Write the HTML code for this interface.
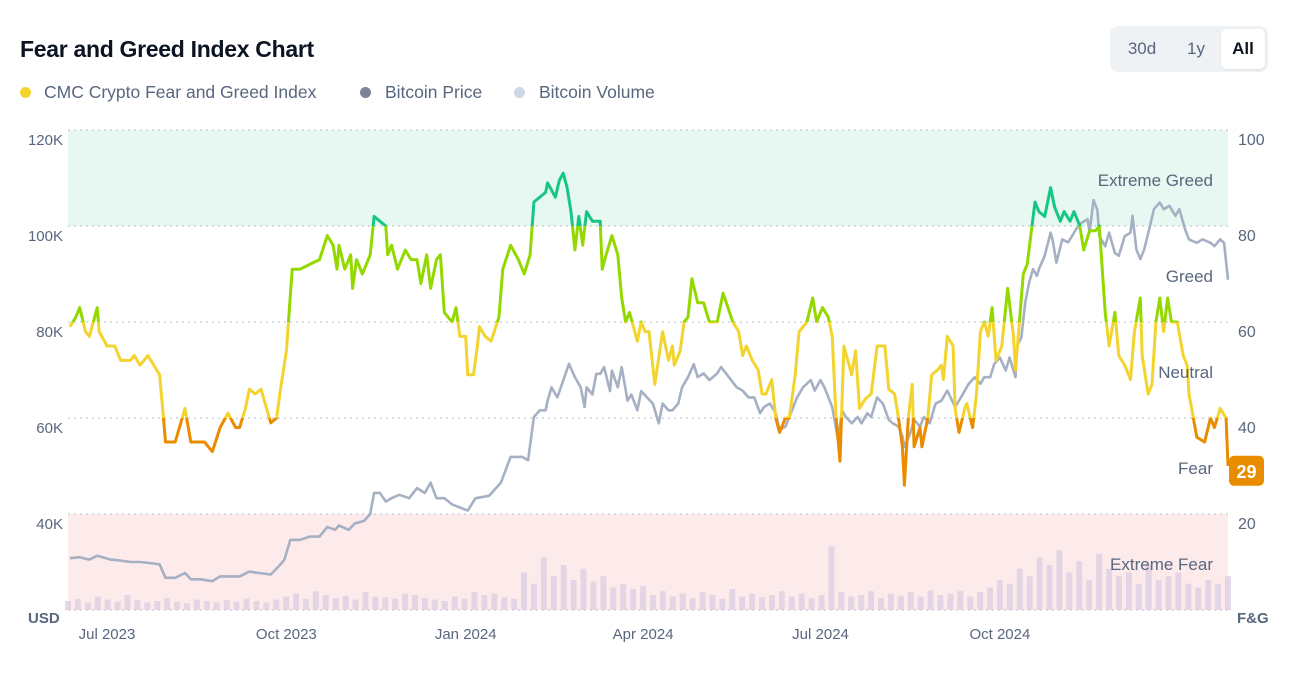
<!DOCTYPE html>
<html><head><meta charset="utf-8"><style>
body{margin:0;background:#fff;font-family:"Liberation Sans",sans-serif;}
#wrap{position:relative;width:1295px;height:677px;overflow:hidden;}
.title{position:absolute;left:20px;top:36px;font-size:23px;font-weight:bold;color:#0d1421;letter-spacing:-0.3px;}
.legend{position:absolute;top:82px;font-size:17.5px;color:#58667e;}
.dot{position:absolute;top:87px;width:11px;height:11px;border-radius:50%;}
.btns{position:absolute;left:1110px;top:26px;width:158px;height:46px;background:#eff2f5;border-radius:8px;}
.btn{position:absolute;top:3px;height:40px;line-height:40px;font-size:17px;color:#58667e;text-align:center;border-radius:6px;}
</style></head><body><div id="wrap">
<div class="title">Fear and Greed Index Chart</div>
<div class="dot" style="left:20px;background:#f3d42f"></div>
<div class="legend" style="left:44px">CMC Crypto Fear and Greed Index</div>
<div class="dot" style="left:360px;background:#7d8398"></div>
<div class="legend" style="left:385px">Bitcoin Price</div>
<div class="dot" style="left:514px;background:#cfd6e4"></div>
<div class="legend" style="left:539px">Bitcoin Volume</div>
<div class="btns">
<div class="btn" style="left:8px;width:48px">30d</div>
<div class="btn" style="left:64px;width:44px">1y</div>
<div class="btn" style="left:111px;width:44px;background:#fff;color:#0d1421;font-weight:bold;box-shadow:0 1px 2px rgba(0,0,0,0.08)">All</div>
</div>
<svg id="chart" width="1295" height="677" style="position:absolute;left:0;top:0"></svg>
</div>
<script>
const fgDays=[1,4,6,9,11,15,16,20,24,27,32,34,37,41,44,47,49,50,55,60,63,70,74,78,82,86,88,91,93,96,99,104,107,109,112,115,119,124,129,133,136,138,139,142,145,146,148,151,155,157,160,163,164,166,169,173,176,179,181,184,186,189,191,193,197,199,201,204,205,208,210,211,214,217,221,223,227,231,234,237,239,245,246,250,252,254,256,258,260,262,264,266,269,273,274,276,279,282,284,286,288,292,294,296,298,301,305,308,310,311,314,316,318,320,323,326,329,333,336,341,344,346,348,351,354,356,358,361,363,365,368,370,373,375,379,382,384,387,390,392,394,396,398,402,404,406,409,412,415,419,421,424,426,428,429,431,433,434,437,438,441,443,446,448,449,451,454,455,457,460,461,464,466,468,470,472,474,476,479,482,485,486,488,490,492,496,498,501,504,506,509,511,514,516,519,521,524,527,529,532,534,537,539,542,545,547,550,551,554,556,558,560,562,564,566,569,572,574,575,579,583,586,588,591,594,595];
const fgValues=[59,61,63,58,57,63,58,55,55,52,52,53,51,53,51,49,40,35,35,42,35,35,33,38,41,38,38,42,46,45,46,39,40,46,54,71,71,72,73,78,76,71,76,71,74,67,73,70,74,82,81,80,74,76,71,75,73,73,68,74,67,73,74,62,60,63,57,57,49,49,55,59,57,56,61,71,76,73,70,74,85,87,89,86,89.5,91,88,83,75,82,76,83,81,81,71,74,78,74,65,60,62,56,60,58,58,47,58,52,55,51,54,60,61,69,64,64,60,60,66,60,58,53,55,52,50,45,45,48,40,37,40,40,49,58,60,65,60,63,61,57,40,31,55,49,54,42,44,45,55,55,46,45,40,34,26,40,47,34,38,34,40,49,50,51,48,57,55,42,37,42,43,38,45,58,60,57,63,52,55,67,57,50,60,70,72,85,83,82,88,84,81,83,81,83,80,75,79,79,80,62,55,62,53,51,48,58,65,53,45,47,60,65,58,65,60,60,53,51,45,36,35,40,38,42,40,30,29];
const priceDays=[1,6,11,15,22,27,32,37,42,47,50,55,60,63,68,74,78,83,88,93,98,104,109,111,114,119,124,129,133,137,139,144,147,152,155,157,160,163,166,170,175,179,183,186,189,193,197,205,209,216,222,227,233,236,239,242,245,246,248,251,254,257,260,263,265,266,269,271,273,275,278,279,282,284,287,289,292,294,297,300,303,305,308,310,313,315,318,321,323,326,329,333,335,339,343,346,349,352,355,357,360,363,365,368,370,374,377,381,383,386,388,392,395,397,399,402,405,407,410,412,415,418,421,423,426,428,429,432,434,437,439,442,445,448,451,455,458,462,465,468,470,473,475,478,481,483,486,487,489,491,493,495,497,498,501,504,505,507,510,513,515,517,520,523,524,526,528,529,532,534,537,539,542,545,546,548,550,552,555,557,560,562,565,568,570,573,575,579,582,586,588,591,593,595];
const priceValues=[30.8,31,30.5,31.3,30.5,30.3,30,30,29.8,29.5,26.7,26.7,27.7,26.4,26.4,26,27,27,27,28,27.7,27.4,29.5,30.5,34.6,34.6,35.3,35.3,37.3,36.7,37.6,36.7,38,38.6,40,44.4,44.4,42.6,43.3,44,43.3,45.4,44.4,46.5,43.3,43.3,42,40.7,43.3,43.8,46.5,51.9,51.9,51.2,60.2,61.6,61.6,63.6,66.4,64.3,67.8,71.3,68.5,66.4,62.3,66.4,64.9,69.2,69.2,70.6,65.6,69.9,66.4,70.6,63.6,64.9,61.6,65.6,64.3,63,58.9,63,61.6,61.6,63,66.4,68.5,71.2,68.5,69.3,67.9,69.3,70.6,68.5,66.4,65.7,64.3,64.3,61,62.3,63,61,57.5,58.2,60.2,64.3,66.4,67.9,65.7,67.9,66.4,62.3,55.4,61.6,60.2,58.9,60.2,58.9,61,60.2,64.3,63,59.6,58.9,58.2,56.2,54,56.8,59.6,58.2,60.2,58.9,63,63.6,65.7,62.3,64.3,67.1,68.5,67.1,68.5,68.5,71.2,72.6,69.9,72.6,68.5,75.3,76.7,84,88.2,91,89.6,91,93.8,98.6,97.2,92.4,97.2,96.6,97.9,99.3,100.7,101.4,98.6,105.4,103.3,97.9,95.8,98.6,94.4,93.8,97.9,98.6,102.1,95.1,93.1,95.1,100,103.5,104.9,103.5,104.2,102.1,103.5,99.3,97.2,96.5,97.2,96.5,95.8,97.2,96.5,88.8];
const volumeValues=[12,15,10,18,14,11,20,13,10,12,16,11,9,14,12,10,13,11,15,12,10,14,18,22,15,25,20,16,19,14,24,18,17,15,22,20,16,14,12,18,15,24,20,22,17,15,50,35,70,45,60,40,55,38,45,30,35,28,32,20,25,18,22,16,24,20,15,28,18,22,17,20,25,18,22,16,20,85,24,18,20,25,16,22,19,24,18,26,20,22,25,18,24,30,40,35,55,45,70,60,80,50,65,40,75,55,45,50,35,60,40,45,50,35,30,40,35,45];
const leftTicks=["120K","100K","80K","60K","40K"];
const leftTickValues=[120,100,80,60,40];
const rightTicks=[100,80,60,40,20];
const xTickLabels=["Jul 2023","Oct 2023","Jan 2024","Apr 2024","Jul 2024","Oct 2024"];
const xTickDays=[20,112,204,295,386,478];
const zones=[{n:"Extreme Greed",lo:80,hi:100,c:"#16c784"},{n:"Greed",lo:60,hi:80,c:"#93d900"},{n:"Neutral",lo:40,hi:60,c:"#f3d42f"},{n:"Fear",lo:20,hi:40,c:"#ea8c00"},{n:"Extreme Fear",lo:0,hi:20,c:"#ea3943"}];
const currentValue=29;

const NS="http://www.w3.org/2000/svg";
const svg=document.getElementById('chart');
const X0=68,X1=1228,Y0=130,Y1=610,DMAX=595;
const xs=d=>X0+(X1-X0)*d/DMAX;
const yFG=v=>Y1-(Y1-Y0)*v/100;
const yP=k=>Y1-(Y1-Y0)*(k-20)/100;
const yV=b=>Y1-b*0.75;
function el(t,a){const e=document.createElementNS(NS,t);for(const k in a)e.setAttribute(k,a[k]);svg.appendChild(e);return e;}
let b=el('rect',{x:X0,y:yFG(100),width:X1-X0,height:yFG(80)-yFG(100),fill:'#e6f8f1'});


b=el('rect',{x:X0,y:yFG(20),width:X1-X0,height:yFG(0)-yFG(20),fill:'#fdeaeb'});


[100,80,60,40,20,0].forEach(v=>{const g=el('line',{x1:X0,x2:X1,y1:yFG(v),y2:yFG(v),stroke:'#c4c9d2','stroke-width':1.3,'stroke-dasharray':'2 4'});

});
const vw=(X1-X0)/volumeValues.length;
volumeValues.forEach((v,i)=>{const d=i*DMAX/(volumeValues.length-1);const r=el('rect',{x:xs(d)-vw*0.3,y:yV(v),width:vw*0.6,height:Y1-yV(v),fill:'#dccfe2',opacity:0.8});

});
let pd=priceDays.map((d,i)=>(i?'L':'M')+xs(d).toFixed(1)+' '+yP(priceValues[i]).toFixed(1)).join(' ');
const pl=el('path',{d:pd,fill:'none',stroke:'#a6b0c3','stroke-width':2.6,'stroke-linejoin':'round'});


const defs=el('defs',{});
let fd=fgDays.map((d,i)=>(i?'L':'M')+xs(d).toFixed(1)+' '+yFG(fgValues[i]).toFixed(1)).join(' ');
zones.forEach((z,i)=>{const cp=document.createElementNS(NS,'clipPath');cp.setAttribute('id','z'+i);
const r=document.createElementNS(NS,'rect');r.setAttribute('x',0);r.setAttribute('width',1295);r.setAttribute('y',yFG(z.hi)-(i==0?50:0));r.setAttribute('height',yFG(z.lo)-yFG(z.hi)+(i==0?50:0)+(i==4?50:0));cp.appendChild(r);defs.appendChild(cp);
const p=el('path',{d:fd,fill:'none',stroke:z.c,'stroke-width':3,'stroke-linejoin':'round','clip-path':'url(#z'+i+')'});


const t=el('text',{x:1213,y:(yFG(z.lo)+yFG(z.hi))/2+8,'text-anchor':'end','font-size':17,fill:'#58667e','font-family':'Liberation Sans, sans-serif'});t.textContent=z.n;

});
leftTickValues.forEach((v,i)=>{const t=el('text',{x:63,y:yP(v)+15,'text-anchor':'end','font-size':15,fill:'#58667e'});t.textContent=leftTicks[i];

});
rightTicks.forEach(v=>{const t=el('text',{x:1238,y:yFG(v)+15,'font-size':16,fill:'#58667e'});t.textContent=v;

});
xTickLabels.forEach((s,i)=>{const t=el('text',{x:xs(xTickDays[i]),y:639,'text-anchor':'middle','font-size':15,fill:'#58667e'});t.textContent=s;

});
let t=el('text',{x:28,y:623,'font-size':15,'font-weight':'bold',fill:'#58667e'});t.textContent='USD';


t=el('text',{x:1237,y:623,'font-size':15,'font-weight':'bold',fill:'#58667e'});t.textContent='F&G';


const by=yFG(currentValue);
const br=el('rect',{x:1229,y:by-15,width:35,height:30,rx:5,fill:'#ea8c00'});


t=el('text',{x:1246.5,y:by+7,'text-anchor':'middle','font-size':18,'font-weight':'bold',fill:'#fff'});t.textContent=currentValue;


</script></body></html>
